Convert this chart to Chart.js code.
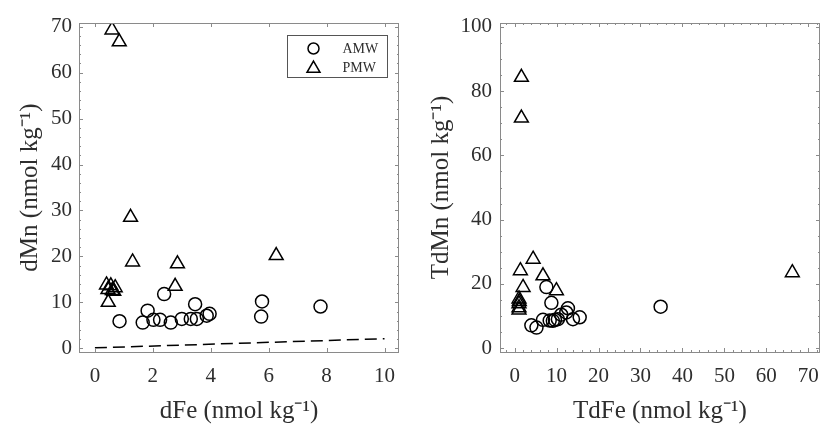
<!DOCTYPE html>
<html>
<head>
<meta charset="utf-8">
<script src="https://cdn.jsdelivr.net/npm/chart.js@4.4.0/dist/chart.umd.min.js"></script>
<style>
  body { margin: 0; background: #fff; }
  #wrap { position: relative; width: 821px; height: 424px; }
  .panel { position: absolute; top: 0; height: 424px; }
</style>
</head>
<body>
<div id="wrap">
  <div class="panel" style="left:0;width:410px"><canvas id="left"></canvas></div>
  <div class="panel" style="left:410px;width:411px"><canvas id="right"></canvas></div>
</div>
<script>
// left panel: dissolved Mn vs dissolved Fe
var amwDFe = [0.85, 1.65, 1.82, 2.02, 2.25, 2.39, 2.62, 3.0, 3.31, 3.46, 3.52, 3.86, 3.96, 5.77, 5.74, 7.79];
var amwDMn = [5.9, 5.6, 8.2, 6.2, 6.2, 11.8, 5.6, 6.4, 6.4, 9.6, 6.4, 7.1, 7.5, 10.2, 6.9, 9.1];
var pmwDFe = [0.59, 0.84, 1.23, 1.30, 2.85, 2.77, 6.26, 0.40, 0.45, 0.55, 0.60, 0.70, 0.65, 0.46];
var pmwDMn = [69.3, 66.7, 28.5, 18.8, 18.4, 13.5, 20.2, 13.8, 12.8, 13.6, 12.6, 13.2, 12.4, 10.0];
var ratioFe = [0, 10];
var ratioMn = [0.1, 2.1];

// right panel: total dissolvable Mn vs Fe
var amwTdFe = [3.98, 5.2, 6.75, 7.56, 8.75, 8.35, 9.1, 9.6, 10.3, 11.1, 12.7, 12.3, 13.9, 15.5, 34.8];
var amwTdMn = [7.1, 6.4, 8.8, 19.0, 14.1, 8.6, 8.5, 8.8, 9.0, 10.4, 12.4, 11.1, 9.0, 9.6, 12.9];
var pmwTdFe = [1.6, 1.6, 4.4, 1.36, 2.0, 6.75, 9.95, 66.2, 1.03, 1.03, 1.03, 1.03, 1.1];
var pmwTdMn = [84.3, 71.6, 27.7, 24.1, 18.9, 22.5, 17.9, 23.5, 15.3, 13.8, 12.6, 11.9, 14.5];

var leftXTicks = [0, 2, 4, 6, 8, 10];
var leftYTicks = [0, 10, 20, 30, 40, 50, 60, 70];
var rightXTicks = [0, 10, 20, 30, 40, 50, 60, 70];
var rightYTicks = [0, 20, 40, 60, 80, 100];

var textColor = '#2e2e2e';
var axisColor = '#8a8a8a';
var serif = "'Liberation Serif', 'Times New Roman', serif";

Chart.defaults.font.family = serif;
Chart.defaults.color = textColor;

function pts(xs, ys) {
  return xs.map(function (x, i) { return { x: x, y: ys[i] }; });
}

// box around the plot with inward major/minor ticks on all four sides
var boxTicks = {
  id: 'boxTicks',
  afterDatasetsDraw: function (chart, args, opts) {
    var ctx = chart.ctx, a = chart.chartArea;
    var xs = chart.scales.x, ys = chart.scales.y;
    ctx.save();
    ctx.strokeStyle = axisColor;
    ctx.lineWidth = 1;
    ctx.beginPath();
    function xMarks(step, len) {
      if (!step) return;
      for (var k = Math.ceil(xs.min / step); k <= Math.floor(xs.max / step); k++) {
        var p = Math.round(xs.getPixelForValue(k * step)) + 0.5;
        ctx.moveTo(p, a.bottom); ctx.lineTo(p, a.bottom - len);
        ctx.moveTo(p, a.top); ctx.lineTo(p, a.top + len);
      }
    }
    function yMarks(step, len) {
      if (!step) return;
      for (var k = Math.ceil(ys.min / step); k <= Math.floor(ys.max / step); k++) {
        var p = Math.round(ys.getPixelForValue(k * step)) + 0.5;
        ctx.moveTo(a.left, p); ctx.lineTo(a.left + len, p);
        ctx.moveTo(a.right, p); ctx.lineTo(a.right - len, p);
      }
    }
    xMarks(opts.xMinor, 2); xMarks(opts.xMajor, 4);
    yMarks(opts.yMinor, 2); yMarks(opts.yMajor, 4);
    ctx.stroke();
    ctx.strokeRect(Math.round(a.left) + 0.5, Math.round(a.top) + 0.5,
      Math.round(a.right - a.left) - 1, Math.round(a.bottom - a.top));
    ctx.restore();
  }
};

// small framed legend in the upper right of the plot area
var boxLegend = {
  id: 'boxLegend',
  afterDraw: function (chart, args, opts) {
    if (!opts.show) return;
    var ctx = chart.ctx, a = chart.chartArea;
    var bx = Math.round(a.right - 112) + 0.5, by = Math.round(a.top + 12) + 0.5;
    ctx.save();
    ctx.fillStyle = '#fff';
    ctx.fillRect(bx, by, 100, 42);
    ctx.strokeStyle = '#555';
    ctx.lineWidth = 1;
    ctx.strokeRect(bx, by, 100, 42);
    var items = chart.data.datasets.filter(function (d) { return d.label; });
    items.forEach(function (d, i) {
      var mx = bx + 26, my = by + 13 + i * 19;
      ctx.strokeStyle = '#000';
      ctx.lineWidth = 1.5;
      ctx.beginPath();
      if (d.pointStyle === 'triangle') {
        var r = 7.5;
        for (var j = 0; j < 3; j++) {
          var ang = j * 2 * Math.PI / 3;
          var px = mx + Math.sin(ang) * r, py = my + 1 - Math.cos(ang) * r;
          if (j === 0) ctx.moveTo(px, py); else ctx.lineTo(px, py);
        }
        ctx.closePath();
      } else {
        ctx.arc(mx, my, 5.5, 0, Math.PI * 2);
      }
      ctx.stroke();
      ctx.fillStyle = textColor;
      ctx.font = '14px ' + serif;
      ctx.textBaseline = 'middle';
      ctx.fillText(d.label, bx + 55, my + 1);
    });
    ctx.restore();
  }
};

function scaleOpts(min, max, ticks, title, size, padTitle, pad) {
  return {
    type: 'linear',
    min: min,
    max: max,
    afterBuildTicks: function (s) { s.ticks = ticks.map(function (v) { return { value: v }; }); },
    afterFit: function (s) {
      if (s.isHorizontal()) { s.height = size; s.paddingLeft = 0; s.paddingRight = 0; }
      else { s.width = size; s.paddingTop = 0; s.paddingBottom = 0; }
    },
    grid: { display: false, drawTicks: false, tickLength: 0 },
    border: { display: false },
    ticks: { color: textColor, padding: pad, font: { family: serif, size: 21 }, maxRotation: 0, autoSkip: false },
    title: {
      display: true, text: title, color: textColor,
      font: { family: serif, size: 25, lineHeight: 1 }, padding: padTitle
    }
  };
}

function makeChart(id, sets, x, y, layoutPad, tickSteps, legend) {
  return new Chart(document.getElementById(id), {
    type: 'scatter',
    data: { datasets: sets },
    options: {
      responsive: true,
      maintainAspectRatio: false,
      animation: false,
      layout: { padding: layoutPad, autoPadding: false },
      scales: { x: x, y: y },
      plugins: {
        legend: { display: false },
        tooltip: { enabled: false },
        boxTicks: tickSteps,
        boxLegend: { show: legend }
      }
    },
    plugins: [boxTicks, boxLegend]
  });
}

function markers(label, data, style, r) {
  return {
    label: label,
    data: data,
    pointStyle: style,
    pointRadius: r,
    pointBorderWidth: 1.5,
    borderColor: '#000',
    backgroundColor: 'rgba(0,0,0,0)'
  };
}

makeChart('left', [
  {
    label: '',
    type: 'line',
    data: pts(ratioFe, ratioMn),
    borderColor: '#000',
    borderWidth: 1.5,
    borderDash: [12, 6],
    pointRadius: 0,
    fill: false
  },
  markers('AMW', pts(amwDFe, amwDMn), 'circle', 6.5),
  markers('PMW', pts(pmwDFe, pmwDMn), 'triangle', 8)
],
  scaleOpts(-0.55, 10.5, leftXTicks, 'dFe (nmol kg\u207B\u00B9)', 72, { top: 0, bottom: 0 }, 12),
  scaleOpts(-0.8, 70.8, leftYTicks, 'dMn (nmol kg\u207B\u00B9)', 79, { top: 18, bottom: 0 }, 7),
  { top: 23, right: 11, left: 0, bottom: 0 },
  { xMajor: 2, xMinor: 0, yMajor: 10, yMinor: 2 },
  true);

makeChart('right', [
  markers('AMW', pts(amwTdFe, amwTdMn), 'circle', 6.5),
  markers('PMW', pts(pmwTdFe, pmwTdMn), 'triangle', 8)
],
  scaleOpts(-3.5, 72.8, rightXTicks, 'TdFe (nmol kg\u207B\u00B9)', 72, { top: 0, bottom: 0 }, 12),
  scaleOpts(-1.2, 101.2, rightYTicks, 'TdMn (nmol kg\u207B\u00B9)', 90, { top: 19, bottom: 0 }, 8),
  { top: 23, right: 1, left: 0, bottom: 0 },
  { xMajor: 10, xMinor: 2, yMajor: 20, yMinor: 5 },
  false);
</script>
</body>
</html>
